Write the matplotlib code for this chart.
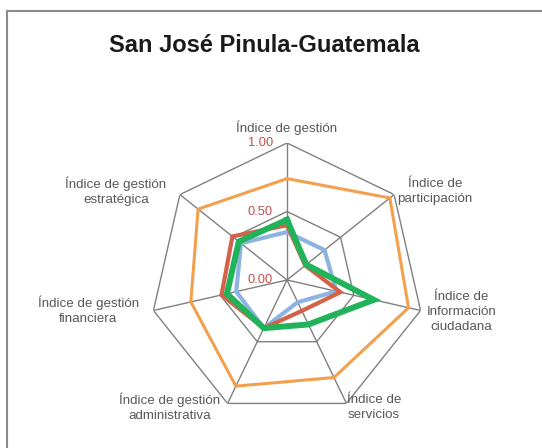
import numpy as np
import matplotlib.pyplot as plt
from matplotlib.lines import Line2D

plt.rcParams["font.family"] = ["Liberation Sans", "DejaVu Sans"]

TITLE = "San José Pinula-Guatemala"
labels = [
    "Índice de gestión",
    "Índice de\nparticipación",
    "Índice de\nInformación\nciudadana",
    "Índice de\nservicios",
    "Índice de gestión\nadministrativa",
    "Índice de gestión\nfinanciera",
    "Índice de gestión\nestratégica",
]
ticks = [0.0, 0.5, 1.0]
tick_labels = ["0.00", "0.50", "1.00"]

orange = [0.74, 0.96, 0.91, 0.79, 0.86, 0.72, 0.83]
blue = [0.35, 0.35, 0.37, 0.18, 0.39, 0.38, 0.43]
red = [0.40, 0.17, 0.40, 0.25, 0.39, 0.49, 0.51]
green = [0.44, 0.18, 0.65, 0.36, 0.39, 0.45, 0.45]

series = [
    (orange, "#F3A04E", 2.2),
    (blue, "#8DB3E2", 3.0),
    (red, "#D4624A", 3.0),
    (green, "#20B35A", 4.3),
]

# label offsets from the outer vertex, in pixels (dx right, dy up)
label_offsets = [(0, 15), (41, 3), (41, -1.5), (27.5, -4),
                 (-57.5, -4), (-65, 0), (-64, 3)]

W, H = 542, 448
fig = plt.figure(figsize=(W / 100, H / 100), dpi=100)

# frame around the chart (only top and left edges are visible)
fig.add_artist(Line2D([7 / W, 7 / W], [0, 1 - 11 / H], color="#8c8c8c", lw=1.5))
fig.add_artist(Line2D([7 / W, 1], [1 - 11 / H, 1 - 11 / H], color="#8c8c8c", lw=1.5))

cx, cy, R = 287, 280, 137
ax = fig.add_axes([(cx - R) / W, (H - cy - R) / H, 2 * R / W, 2 * R / H],
                  projection="polar")
ax.set_theta_offset(np.pi / 2)
ax.set_theta_direction(-1)
ax.set_ylim(0, 1)
ax.grid(False)
ax.set_xticks([])
ax.set_yticks([])
ax.spines["polar"].set_visible(False)
ax.patch.set_visible(False)

n = len(labels)
theta = np.arange(n) * 2 * np.pi / n
closed = np.append(theta, theta[0])

grid_kw = dict(color="#808080", lw=1.0, zorder=1)
for t in ticks[1:]:
    ax.plot(closed, [t] * (n + 1), **grid_kw)
for th in theta:
    ax.plot([th, th], [0, 1], **grid_kw)

for vals, color, lw in series:
    ax.plot(closed, vals + vals[:1], color=color, lw=lw, zorder=3,
            solid_joinstyle="miter")

for t, lab in zip(ticks, tick_labels):
    ax.annotate(lab, xy=(0, t), xytext=(-14 * 0.72, 0), textcoords="offset points",
                ha="right", va="center", fontsize=9.3, color="#C0504D", zorder=4)

for th, lab, (dx, dy) in zip(theta, labels, label_offsets):
    ax.annotate(lab, xy=(th, 1), xytext=(dx * 0.72, dy * 0.72),
                textcoords="offset points", ha="center", va="center",
                fontsize=9.6, color="#595959", linespacing=1.32)

fig.text(264.5 / W, 1 - 45 / H, TITLE, ha="center", va="center",
         fontsize=17, fontweight="bold", color="#1a1a1a")

fig.savefig("out.png", dpi=100)
